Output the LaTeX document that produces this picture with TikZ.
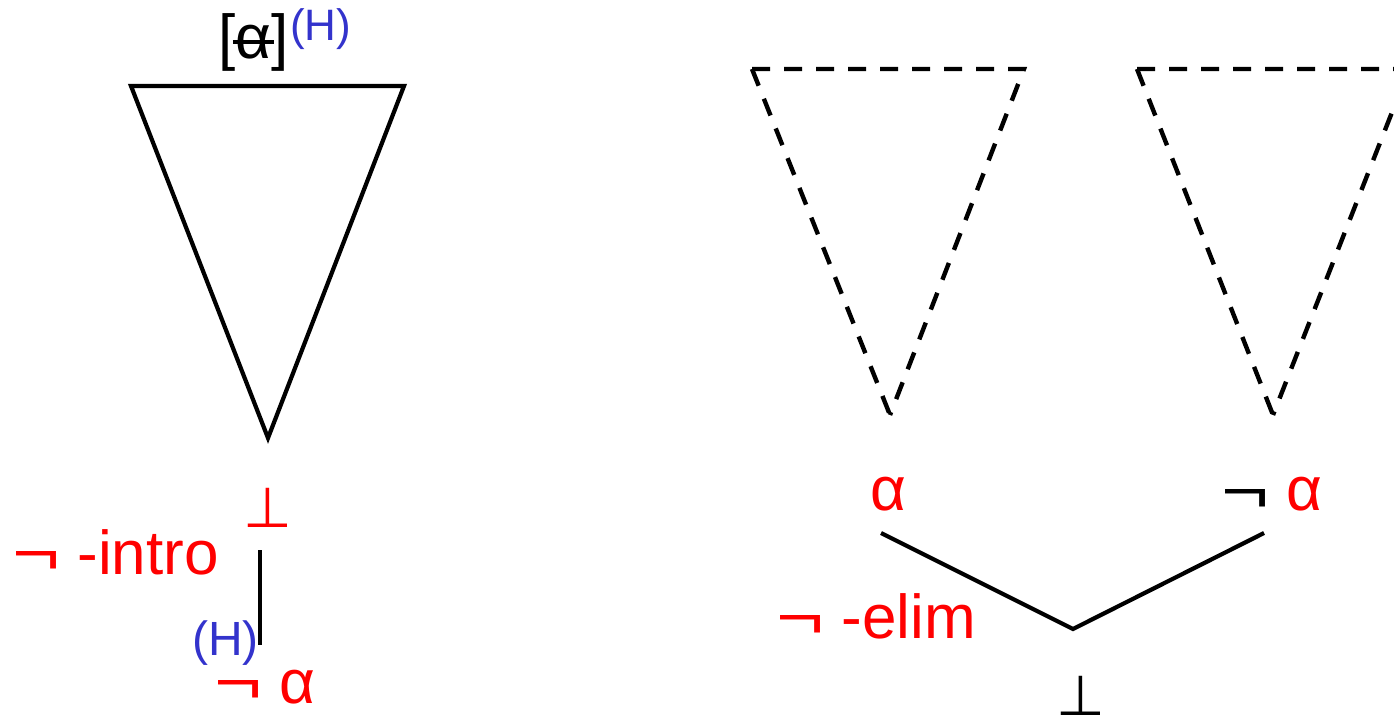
\documentclass[tikz,border=0pt]{standalone}
\usepackage{fontspec}
\setmainfont{Liberation Sans}
\newfontfamily\perpfont{DejaVu Sans}
\usetikzlibrary{positioning}
\definecolor{ruleRed}{HTML}{FF0000}
\definecolor{hypBlue}{HTML}{3333CC}
\newcommand{\struckalpha}{\ooalign{α\cr\hidewidth\rule[0.24em]{0.66em}{0.065em}\hidewidth\cr}}
\newcommand{\negsign}{\resizebox{48pt}{23pt}{¬}}

\begin{document}
\begin{tikzpicture}[x=1pt, y=-1pt,
    formula/.style={inner sep=0pt, font=\fontsize{62}{70}\selectfont, text=ruleRed},
    hyp/.style={inner sep=0pt, font=\fontsize{44}{50}\selectfont, text=hypBlue},
    falsum/.style={inner sep=0pt, font=\perpfont\fontsize{56}{60}\selectfont},
    subproof/.style={line width=4.2pt, line join=miter},
    hidden/.style={line width=4.4pt, dash pattern=on 18pt off 14pt},
    branch/.style={line width=4.2pt},
]
\useasboundingbox (0,0) rectangle (1394,719);
\clip (0,0) rectangle (1394,719);

% left: negation introduction
\draw[subproof] (131,86) -- (404,86) -- (268,438) -- cycle;
\node[formula, text=black, anchor=base west] (discharged) at (218,59) {[\struckalpha]};
\node[hyp, anchor=base west] (discLabel) at (290,41) {(H)};
\node[falsum, text=ruleRed, anchor=base] (perpIntro) at (268,527) {⊥};
\node[formula, anchor=base west] (introRule) at (12,574) {\negsign\ -intro};
\node[formula, anchor=base west] (notAlpha) at (214,703) {\negsign\ α};
\node[hyp, font=\fontsize{48}{52}\selectfont, anchor=base east] (hypLabel) at (259,655) {(H)};
\coordinate (introTop) at (260,550);
\coordinate (introBot) at (260,645);
\draw[branch] (introTop) -- (introBot);

% right: negation elimination
\draw[hidden] (752,69) -- (1024,69) -- (890,415);
\draw[hidden] (752,69) -- (890,415);
\draw[hidden] (1137,69) -- (1409,69) -- (1273,415);
\draw[hidden] (1137,69) -- (1273,415);
\node[formula, anchor=base west] (alphaPrem) at (870,510) {α};
\node[formula, text=black, anchor=base east] (negSign) at (1270,512) {\negsign};
\node[formula, anchor=base west] (alphaNeg) at (1286,510) {α};
\node[formula, anchor=base west] (elimRule) at (776,638) {\negsign\ -elim};
\node[falsum, anchor=base] (perpElim) at (1081,715) {⊥};
\coordinate (leftEnd) at (881,533);
\coordinate (joint) at (1073,629);
\coordinate (rightEnd) at (1264,533);
\draw[branch] (leftEnd) -- (joint) -- (rightEnd);
\end{tikzpicture}
\end{document}
